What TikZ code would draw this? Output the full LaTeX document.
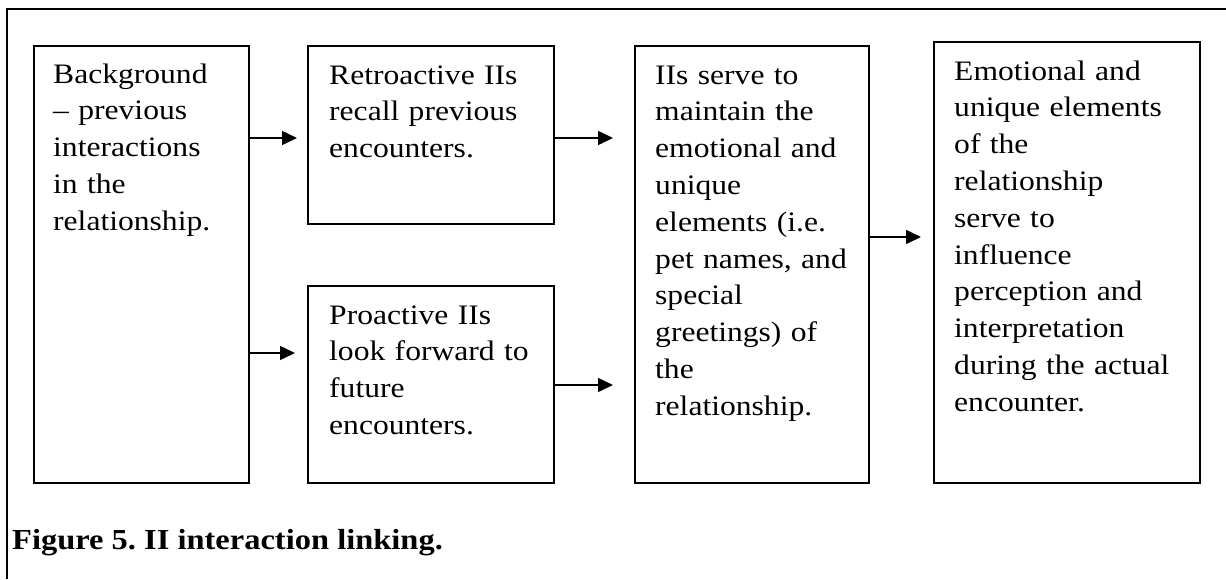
\documentclass[tikz,border=0pt]{standalone}
\usepackage{fontspec}
\setmainfont{Liberation Serif}[FakeStretch=1.12]
\usetikzlibrary{arrows.meta}
\frenchspacing
\begin{document}
\begin{tikzpicture}[x=1pt,y=-1pt,
  box/.style={draw, line width=1.5pt, inner sep=0pt, anchor=north west},
  txt/.style={anchor=base west, inner sep=0pt, align=left, text width=300pt,
    font=\fontsize{28.2}{36.8}\selectfont},
  arr/.style={line width=1.5pt, -{Triangle[length=15pt,width=14pt]}},
  frame/.style={line width=2pt}]
\useasboundingbox (0,0) rectangle (1226,579);
\draw[frame] (7,579) -- (7,9) -- (1226,9);
% boxes
\node[box, minimum width=215pt, minimum height=437pt] (b1) at (33,45) {};
\node[box, minimum width=246pt, minimum height=178pt] (b2) at (307,45) {};
\node[box, minimum width=246pt, minimum height=197pt] (b3) at (307,285) {};
\node[box, minimum width=234pt, minimum height=437pt] (b4) at (634,45) {};
\node[box, line width=2pt, minimum width=266pt, minimum height=441pt] (b5) at (933,41) {};
% texts
\node[txt] (t1) at (53,83) {Background\\– previous\\interactions\\in the\\relationship.};
\node[txt] (t2) at (329,84) {Retroactive IIs\\recall previous\\encounters.};
\node[txt] (t3) at (329,324) {Proactive IIs\\look forward to\\future\\encounters.};
\node[txt] (t4) at (655,84) {IIs serve to\\maintain the\\emotional and\\unique\\elements (i.e.\\pet names, and\\special\\greetings) of\\the\\relationship.};
\node[txt] (t5) at (954,80) {Emotional and\\unique elements\\of the\\relationship\\serve to\\influence\\perception and\\interpretation\\during the actual\\encounter.};
\node[anchor=base west, inner sep=0pt, font=\fontsize{29}{36}\selectfont\bfseries] (cap) at (12,549) {Figure 5. II interaction linking.};
% arrows
\coordinate (ya) at (0,138);
\coordinate (yb) at (0,353);
\coordinate (yc) at (0,385);
\coordinate (yd) at (0,237);
\draw[arr, shorten >=10pt] (b1.east |- ya) -- (b2.west |- ya);
\draw[arr, shorten >=12pt] (b1.east |- yb) -- (b3.west |- yb);
\draw[arr, shorten >=21pt] (b2.east |- ya) -- (b4.west |- ya);
\draw[arr, shorten >=21pt] (b3.east |- yc) -- (b4.west |- yc);
\draw[arr, shorten >=12pt] (b4.east |- yd) -- (b5.west |- yd);
\end{tikzpicture}
\end{document}
